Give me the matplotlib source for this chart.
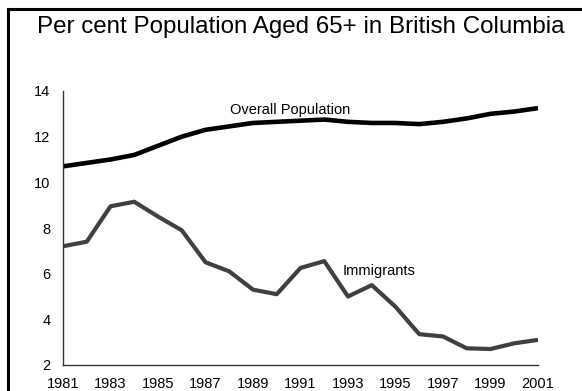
import matplotlib
matplotlib.use("Agg")
import matplotlib.pyplot as plt
from matplotlib.patches import Rectangle

plt.rcParams['font.family'] = ['Liberation Sans', 'DejaVu Sans']

# Per cent of population aged 65+, British Columbia
years = list(range(1981, 2002))
overall = [10.7, 10.85, 11.0, 11.2, 11.6, 12.0, 12.3, 12.45, 12.6, 12.65, 12.7,
           12.75, 12.65, 12.6, 12.6, 12.55, 12.65, 12.8, 13.0, 13.1, 13.25]
immigrants = [7.2, 7.4, 8.95, 9.15, 8.5, 7.9, 6.5, 6.1, 5.3, 5.1, 6.25,
              6.55, 5.0, 5.5, 4.55, 3.35, 3.25, 2.73, 2.7, 2.95, 3.1]
year_ticks = list(range(1981, 2002, 2))
pct_ticks = [2, 4, 6, 8, 10, 12, 14]

W, H = 582, 391
fig = plt.figure(figsize=(W / 100, H / 100), dpi=100)

# frame around the whole chart (runs off the right and bottom edges)
fig.patches.append(Rectangle((7.5 / W, -0.05), 1.2, 1 - 8.5 / H + 0.05,
                             transform=fig.transFigure, fill=False,
                             edgecolor='black', linewidth=2.2))

ax = fig.add_axes([63 / W, 1 - 365 / H, (538 - 63) / W, (365 - 91) / H])
ax.plot(years, overall, color='black', linewidth=3.3, solid_capstyle='butt')
ax.plot(years, immigrants, color='#404040', linewidth=3.0, solid_capstyle='butt')

ax.set_xlim(1981, 2001)
ax.set_ylim(2, 14)
ax.set_xticks(year_ticks)
ax.set_yticks(pct_ticks)
ax.tick_params(length=0, labelsize=10.5)
ax.tick_params(axis='x', pad=9)
ax.tick_params(axis='y', pad=9)
for s in ['top', 'right']:
    ax.spines[s].set_visible(False)
for s in ['left', 'bottom']:
    ax.spines[s].set_color('#333333')
    ax.spines[s].set_linewidth(1.0)

ax.text(1990.56, 13.17, 'Overall Population', fontsize=10.5, ha='center', va='center')
ax.text(1992.79, 6.12, 'Immigrants', fontsize=10.5, ha='left', va='center')

fig.text(0.5 * (32 + 570) / W, 1 - 27 / H,
         'Per cent Population Aged 65+ in British Columbia',
         fontsize=17.4, ha='center', va='center')

fig.savefig('out.png', dpi=100)
